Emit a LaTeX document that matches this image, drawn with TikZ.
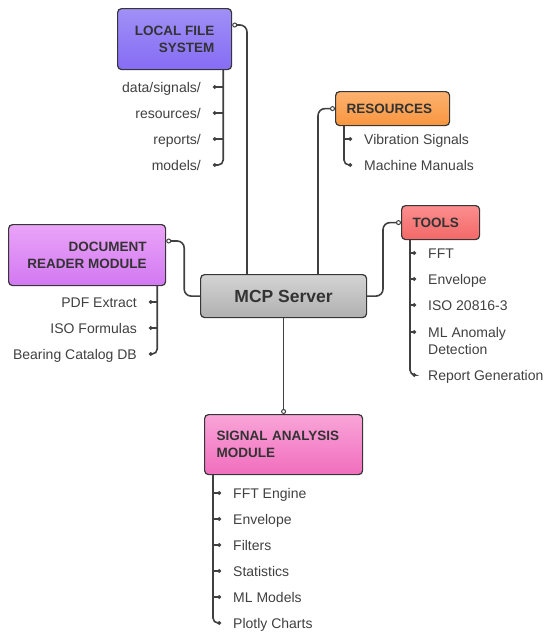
\documentclass[tikz,border=0pt]{standalone}
\usepackage{fontspec}
\setmainfont{Liberation Sans}
\usetikzlibrary{arrows.meta,positioning,calc}

\definecolor{wire}{HTML}{404040}
\definecolor{edge}{HTML}{363636}
\definecolor{headtext}{HTML}{333333}
\definecolor{leaftext}{HTML}{404040}

\begin{document}
\begin{tikzpicture}[
  x=1pt, y=-1pt,
  every node/.style={font=\fontsize{14}{17}\selectfont},
  box/.style={draw=edge, line width=1.2pt, rounded corners=4pt, anchor=north west,
    inner ysep=0pt, text=headtext, font=\fontsize{13.5}{17}\selectfont\bfseries},
  leaf/.style={text=leaftext, inner xsep=12pt, inner ysep=0pt,
    text height=12pt, text depth=2pt},
  link/.style={draw=wire, line width=1.6pt, rounded corners=7pt,
    {Circle[open, fill=white, length=5pt, line width=1pt]}-},
  trunk/.style={draw=wire, line width=1.6pt, rounded corners=5pt, -{Circle[length=3.5pt]}},
  twig/.style={draw=wire, line width=1.6pt, -{Circle[length=3.5pt]}}
]
  \useasboundingbox (0,0) rectangle (550,637);

  % Centre node
  \node[box, minimum width=166pt, minimum height=43pt, top color=black!17, bottom color=black!31,
    font=\fontsize{17.5}{20}\selectfont\bfseries] (mcp) at (200,274) {MCP Server};

  % Branch boxes
  \node[box, minimum width=114pt, minimum height=61pt, align=right,
    top color={rgb,255:red,160;green,144;blue,247}, bottom color={rgb,255:red,134;green,108;blue,244}]
    (lfs) at (117,8) {LOCAL FILE\\SYSTEM};
  \node[box, minimum height=34pt, text width=92pt, inner xsep=11pt, align=left,
    top color={rgb,255:red,252;green,178;blue,112}, bottom color={rgb,255:red,248;green,149;blue,62}]
    (res) at (335,91) {RESOURCES};
  \node[box, minimum width=157pt, minimum height=61pt, align=right,
    top color={rgb,255:red,234;green,164;blue,248}, bottom color={rgb,255:red,210;green,120;blue,242}]
    (drm) at (8,224) {DOCUMENT\\READER MODULE};
  \node[box, minimum height=34pt, text width=56pt, inner xsep=11pt, align=left,
    top color={rgb,255:red,252;green,142;blue,142}, bottom color={rgb,255:red,243;green,104;blue,104}]
    (tools) at (401,205) {TOOLS};
  \node[box, minimum height=60pt, text width=134pt, inner xsep=12pt, align=left,
    top color={rgb,255:red,249;green,164;blue,216}, bottom color={rgb,255:red,241;green,110;blue,190}]
    (sam) at (204,414) {SIGNAL ANALYSIS\\MODULE};

  % Links to the centre
  \draw[link] ([yshift=-17pt]lfs.north east) -| ([xshift=47pt]mcp.north west);
  \draw[link] (res.west) -| ([xshift=118pt]mcp.north west);
  \draw[link] ([yshift=-17pt]drm.north east) -- ++(18,0) |- (mcp.west);
  \draw[link] (tools.west) -- ++(-18,0) |- (mcp.east);
  \draw[link] (sam.north) -- (mcp.south);

  % Local file system leaves
  \coordinate (lfsT) at ([xshift=-9pt]lfs.south east);
  \node[leaf, anchor=east] (datasig) at (213,87) {data/signals/};
  \node[leaf, anchor=east] (resdir) at (213,113) {resources/};
  \node[leaf, anchor=east] (repdir) at (213,139) {reports/};
  \node[leaf, anchor=east] (moddir) at (213,165) {models/};
  \draw[trunk] (lfsT) |- (moddir.east);
  \draw[twig] (datasig.east -| lfsT) -- (datasig.east);
  \draw[twig] (resdir.east -| lfsT) -- (resdir.east);
  \draw[twig] (repdir.east -| lfsT) -- (repdir.east);

  % Resources leaves
  \coordinate (resT) at ([xshift=9pt]res.south west);
  \node[leaf, anchor=west] (vib) at (352,139) {Vibration Signals};
  \node[leaf, anchor=west] (manual) at (352,165) {Machine Manuals};
  \draw[trunk] (resT) |- (manual.west);
  \draw[twig] (vib.west -| resT) -- (vib.west);

  % Document reader leaves
  \coordinate (drmT) at ([xshift=-9pt]drm.south east);
  \node[leaf, anchor=east] (pdf) at (149,302) {PDF Extract};
  \node[leaf, anchor=east] (isof) at (149,328) {ISO Formulas};
  \node[leaf, anchor=east] (bearing) at (149,354) {Bearing Catalog DB};
  \draw[trunk] (drmT) |- (bearing.east);
  \draw[twig] (pdf.east -| drmT) -- (pdf.east);
  \draw[twig] (isof.east -| drmT) -- (isof.east);

  % Tools leaves
  \coordinate (toolsT) at ([xshift=9pt]tools.south west);
  \node[leaf, anchor=west] (fft) at (416,253) {FFT};
  \node[leaf, anchor=west] (env) at (416,279) {Envelope};
  \node[leaf, anchor=west] (iso) at (416,305) {ISO 20816-3};
  \node[leaf, anchor=north west, align=left, text height=, text depth=] (mlad) at (416,327) {ML Anomaly\\Detection};
  \node[leaf, anchor=west] (report) at (416,375) {Report Generation};
  \draw[trunk] (toolsT) |- (report.west);
  \draw[twig] (fft.west -| toolsT) -- (fft.west);
  \draw[twig] (env.west -| toolsT) -- (env.west);
  \draw[twig] (iso.west -| toolsT) -- (iso.west);
  \draw[twig] ([yshift=-5pt]mlad.north west -| toolsT) -- ([yshift=-5pt]mlad.north west);

  % Signal analysis leaves
  \coordinate (samT) at ([xshift=9pt]sam.south west);
  \node[leaf, anchor=west] (fftE) at (221,493) {FFT Engine};
  \node[leaf, anchor=west] (envS) at (221,519) {Envelope};
  \node[leaf, anchor=west] (filt) at (221,545) {Filters};
  \node[leaf, anchor=west] (stat) at (221,571) {Statistics};
  \node[leaf, anchor=west] (mlm) at (221,597) {ML Models};
  \node[leaf, anchor=west] (plotly) at (221,623) {Plotly Charts};
  \draw[trunk] (samT) |- (plotly.west);
  \draw[twig] (fftE.west -| samT) -- (fftE.west);
  \draw[twig] (envS.west -| samT) -- (envS.west);
  \draw[twig] (filt.west -| samT) -- (filt.west);
  \draw[twig] (stat.west -| samT) -- (stat.west);
  \draw[twig] (mlm.west -| samT) -- (mlm.west);
\end{tikzpicture}
\end{document}
